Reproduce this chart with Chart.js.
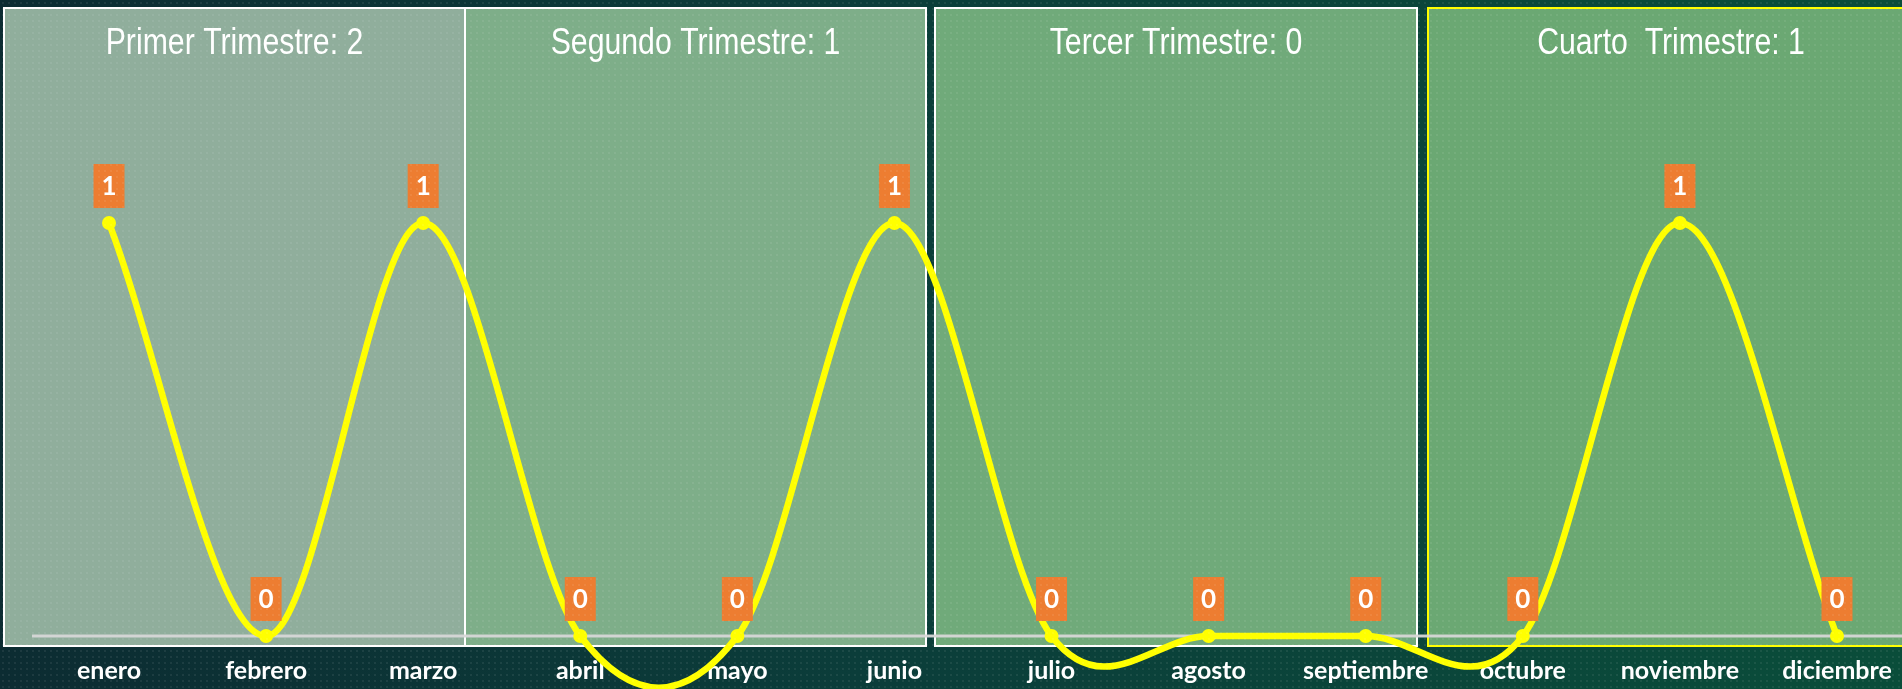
<!DOCTYPE html>
<html>
<head>
<meta charset="utf-8">
<script src="https://cdn.jsdelivr.net/npm/chart.js@4.4.0/dist/chart.umd.min.js"></script>
<style>
  html, body { margin: 0; padding: 0; }
  body {
    width: 1902px; height: 689px; overflow: hidden; position: relative;
    background: linear-gradient(90deg, #0c2c32 0%, #0b3d3a 45%, #0a4d3a 100%);
  }
  #wrap { position: absolute; left: 0; top: 0; width: 1902px; height: 689px; }
  #dots {
    position: absolute; left: 0; top: 0; width: 1902px; height: 689px; pointer-events: none;
    background-image: radial-gradient(rgba(255,255,255,0.07) 1px, transparent 1.6px);
    background-size: 6px 6px;
  }
</style>
</head>
<body>
<div id="wrap"><canvas id="lineChart" width="1902" height="689"></canvas></div>
<div id="dots"></div>
<script>
const months = ["enero", "febrero", "marzo", "abril", "mayo", "junio",
  "julio", "agosto", "septiembre", "octubre", "noviembre", "diciembre"];
const values = [1, 0, 1, 0, 0, 1, 0, 0, 0, 0, 1, 0];
const quarterTitles = ["Primer Trimestre: 2", "Segundo Trimestre: 1", "Tercer Trimestre: 0", "Cuarto  Trimestre: 1"];

// quarter panels behind the line
const panels = [
  { x1: 4, x2: 465, fill: "#90ae9c", stroke: "#ffffff" },
  { x1: 465, x2: 926, fill: "#7eae89", stroke: "#ffffff" },
  { x1: 935, x2: 1417, fill: "#70aa7a", stroke: "#ffffff" },
  { x1: 1428, x2: 1914, fill: "#6ba873", stroke: "#ffff00" },
];

// office-style smoothing: catmull-rom tangents on the points chart.js placed
function smoothLine(chart) {
  const meta = chart.getDatasetMeta(0);
  meta.dataset.updateControlPoints(chart.chartArea, "x");
  const pts = meta.data;
  const n = pts.length;
  pts.forEach((p, i) => {
    const prev = pts[Math.max(i - 1, 0)];
    const next = pts[Math.min(i + 1, n - 1)];
    let tx = (next.x - prev.x) / 6, ty = (next.y - prev.y) / 6;
    if (i === 0 || i === n - 1) { tx *= 2; ty *= 2; }
    p.cp1x = p.x - tx; p.cp1y = p.y - ty;
    p.cp2x = p.x + tx; p.cp2y = p.y + ty;
  });
}

const decor = {
  id: "decor",
  beforeDraw(chart) {
    const ctx = chart.ctx;
    ctx.save();
    panels.forEach((p, i) => {
      ctx.fillStyle = p.fill;
      ctx.fillRect(p.x1, 8, p.x2 - p.x1, 638);
      ctx.strokeStyle = p.stroke;
      ctx.lineWidth = 2;
      ctx.strokeRect(p.x1, 8, p.x2 - p.x1, 638);
      ctx.save();
      ctx.translate((p.x1 + p.x2) / 2, 54);
      ctx.scale(0.84, 1);
      ctx.fillStyle = "#ffffff";
      ctx.font = '36px "Liberation Sans", Arial, sans-serif';
      ctx.textAlign = "center";
      ctx.textBaseline = "alphabetic";
      ctx.fillText(quarterTitles[i], 0, 0);
      ctx.restore();
    });
    ctx.restore();
  },
  beforeDatasetsDraw(chart) {
    smoothLine(chart);
    const ctx = chart.ctx;
    const x = chart.scales.x, y = chart.scales.y;
    const y0 = y.getPixelForValue(0);
    ctx.save();
    ctx.strokeStyle = "rgba(215,215,215,0.95)";
    ctx.lineWidth = 3;
    ctx.beginPath();
    ctx.moveTo(32, y0);
    ctx.lineTo(1902, y0);
    ctx.stroke();
    ctx.fillStyle = "#ffffff";
    ctx.font = 'bold 25px Lato, "Open Sans", sans-serif';
    ctx.textAlign = "center";
    ctx.textBaseline = "middle";
    months.forEach((m, i) => ctx.fillText(m, x.getPixelForValue(i), 671));
    ctx.restore();
  },
  afterDatasetsDraw(chart) {
    const ctx = chart.ctx;
    const meta = chart.getDatasetMeta(0);
    ctx.save();
    ctx.font = 'bold 26px Lato, "Open Sans", sans-serif';
    ctx.textAlign = "center";
    ctx.textBaseline = "middle";
    meta.data.forEach((pt, i) => {
      const bx = pt.x - 15.5, by = pt.y - 59;
      ctx.fillStyle = "#ed7d31";
      ctx.fillRect(bx, by, 31, 44);
      ctx.fillStyle = "#ffffff";
      ctx.fillText(String(values[i]), pt.x, by + 23);
    });
    ctx.restore();
  },
};

new Chart(document.getElementById("lineChart"), {
  type: "line",
  data: {
    labels: months,
    datasets: [
      {
        data: values,
        borderColor: "#ffff00",
        backgroundColor: "#ffff00",
        borderWidth: 6.5,
        pointRadius: 7,
        pointHoverRadius: 7,
        pointBorderWidth: 0,
        tension: 0.4,
        clip: false,
      },
    ],
  },
  options: {
    responsive: false,
    animation: false,
    devicePixelRatio: 1,
    layout: { autoPadding: false, padding: { left: 109, right: 65, top: 0, bottom: 0 } },
    elements: { line: { capBezierPoints: false } },
    scales: {
      x: { display: false, offset: false },
      y: { display: false, min: -0.1283, max: 1.54 },
    },
    plugins: {
      legend: { display: false },
      tooltip: { enabled: false },
    },
  },
  plugins: [decor],
});
</script>
</body>
</html>
